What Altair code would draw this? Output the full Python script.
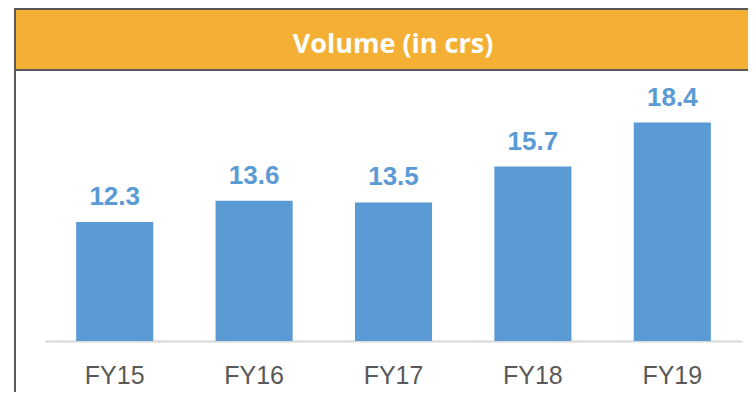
import altair as alt
import pandas as pd

categories = ["FY15", "FY16", "FY17", "FY18", "FY19"]
volumes = [12.3, 13.6, 13.5, 15.7, 18.4]
title_text = "Volume (in crs)"

df = pd.DataFrame({"fy": categories, "vol": volumes})

W, H = 697, 332
BLUE = "#5B9BD5"
GRAY = "#595959"
NARROW = "Liberation Sans Narrow, Arial Narrow, Liberation Sans, Arial"
YMIN = 5

x_enc = alt.X("fy:N", sort=categories,
              scale=alt.Scale(paddingInner=0.447, paddingOuter=0.2235),
              axis=alt.Axis(title=None, labelAngle=0, ticks=False, tickSize=0,
                            domain=True, domainColor="#D9D9D9", domainWidth=2,
                            labelFont=NARROW, labelFontSize=25, labelColor=GRAY,
                            labelBaseline="alphabetic", labelPadding=42))
y_enc = alt.Y("vol:Q", scale=alt.Scale(domain=[YMIN, 25.37], zero=False, nice=False),
              axis=None)

base = alt.Chart(df)

bars = base.mark_bar(color=BLUE).encode(x=x_enc, y=y_enc, y2=alt.datum(YMIN))
labels = base.mark_text(font=NARROW, fontSize=26, fontWeight="bold", color=BLUE,
                        baseline="alphabetic", dy=-17).encode(
    x=alt.X("fy:N", sort=categories), y="vol:Q",
    text=alt.Text("vol:Q", format=".1f"))

hdr_df = pd.DataFrame({"t": [title_text]})
header = alt.Chart(hdr_df).mark_rect(fill="#F4B034", stroke=GRAY, strokeWidth=2).encode(
    x=alt.value(-30), x2=alt.value(760), y=alt.value(0), y2=alt.value(61))
left_line = alt.Chart(hdr_df).mark_rule(color=GRAY, strokeWidth=2).encode(
    x=alt.value(-30), y=alt.value(61), y2=alt.value(400))
title = alt.Chart(hdr_df).mark_text(font="Open Sans", fontWeight="bold", fontSize=27,
                                    color="white", baseline="alphabetic").encode(
    x=alt.value(348), y=alt.value(44), text="t:N")

chart = alt.layer(header, left_line, title, bars, labels).properties(
    width=W, height=H,
    autosize=alt.AutoSizeParams(type="none"),
    padding={"left": 37, "top": 1, "right": 6, "bottom": 51},
).configure_view(stroke=None)

chart.save("out.html", embed_options={"renderer": "svg", "actions": False})
